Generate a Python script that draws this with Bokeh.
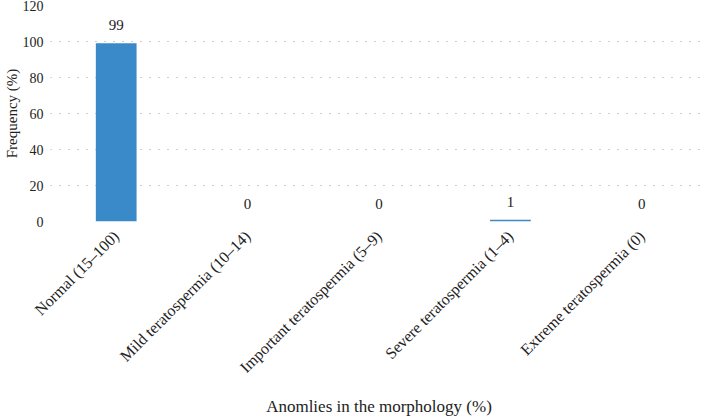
import math
from bokeh.plotting import figure
from bokeh.models import ColumnDataSource, FactorRange, Range1d, FixedTicker
from bokeh.core.properties import value
from bokeh.embed import file_html
from bokeh.resources import INLINE

categories = ["Normal (15\u2013100)", "Mild teratospermia (10\u201314)",
              "Important teratospermia (5\u20139)", "Severe teratospermia (1\u20134)",
              "Extreme teratospermia (0)"]
frequency = [99, 0, 0, 1, 0]
labels = ["99", "0", "0", "1", "0"]
y_ticks = [0, 20, 40, 60, 80, 100, 120]

FONT = "Liberation Serif"
BAR = "#3a89c9"

src = ColumnDataSource(dict(cat=categories, val=frequency, lab=labels))

p = figure(width=707, height=418, output_backend="svg", toolbar_location=None,
           x_range=FactorRange(*categories, range_padding=0), y_range=Range1d(0, 120),
           min_border_left=50, min_border_right=0, min_border_top=5, min_border_bottom=196)
p.outline_line_color = None
p.background_fill_color = "white"
p.border_fill_color = "white"

p.vbar(x="cat", top="val", width=0.31, source=src, fill_color=BAR, line_color=None)
p.text(x="cat", y="val", text="lab", source=src, text_align="center", text_baseline="bottom",
       y_offset=-13, text_font=value(FONT), text_font_size="15px", text_color="#222222")

p.xgrid.grid_line_color = None
p.ygrid.grid_line_color = "#9a9a9a"
p.ygrid.grid_line_dash = "1 8"
p.ygrid.grid_line_width = 1

p.yaxis.ticker = FixedTicker(ticks=y_ticks)
for ax in (p.xaxis[0], p.yaxis[0]):
    ax.axis_line_color = None
    ax.major_tick_line_color = None
    ax.minor_tick_line_color = None
    ax.major_tick_out = 0
    ax.major_tick_in = 0
    ax.major_label_text_font = FONT
    ax.major_label_text_color = "#222222"
    ax.axis_label_text_font = FONT
    ax.axis_label_text_font_style = "normal"
    ax.axis_label_text_color = "#222222"

p.yaxis.major_label_text_font_size = "14px"
p.yaxis.axis_label_text_font_size = "15px"
p.xaxis.major_label_text_font_size = "16px"
p.xaxis.axis_label_text_font_size = "17px"

p.yaxis.axis_label = "Frequency (%)"
p.yaxis.axis_label_standoff = 0
p.yaxis.major_label_standoff = 7
p.xaxis.axis_label = "Anomlies in the morphology (%)"
p.xaxis.axis_label_standoff = 12
p.xaxis.major_label_standoff = 12
p.xaxis.major_label_orientation = math.pi / 4

open("out.html", "w").write(file_html(p, INLINE))
